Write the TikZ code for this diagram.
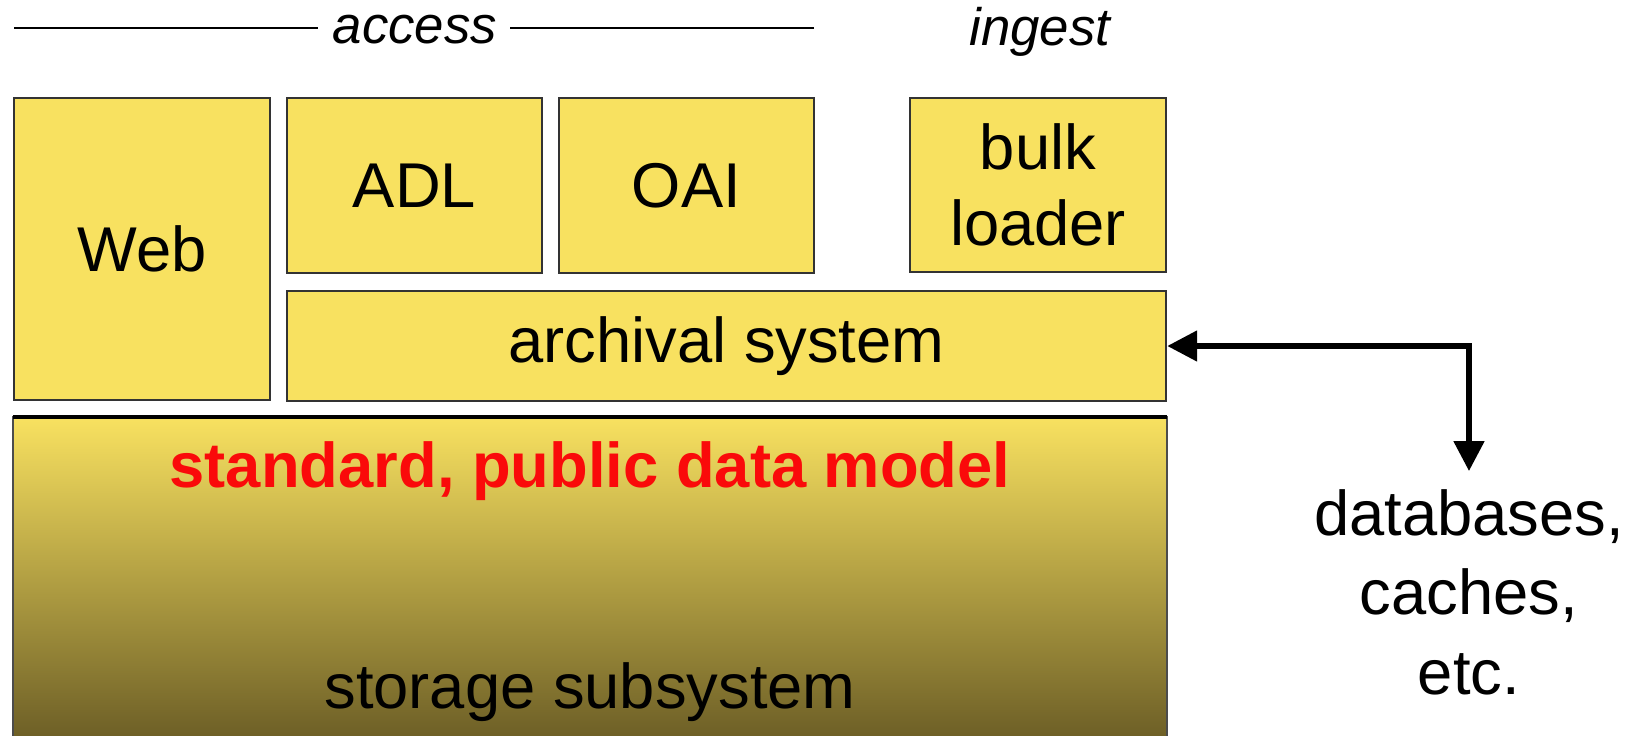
\documentclass[tikz,border=0pt]{standalone}
\usepackage{fontspec}
\setmainfont{Liberation Sans}
\usepackage{tikz}
\usetikzlibrary{arrows.meta,calc,positioning}
\definecolor{boxyellow}{RGB}{248,225,96}
\definecolor{olivemid}{RGB}{206,183,74}
\definecolor{olivedark}{RGB}{108,94,38}
\definecolor{modelred}{RGB}{250,10,10}
\tikzstyle{box}=[draw=black!80, fill=boxyellow, line width=0.6pt, inner sep=0pt, align=center, font=\fontsize{18}{21.6}\selectfont]
\tikzstyle{arrow}=[line width=1.5pt, {Triangle[length=8.5pt,width=8.5pt]}-{Triangle[length=8.5pt,width=8.5pt]}]

\begin{document}
\begin{tikzpicture}[x=0.01cm,y=-0.01cm,lbl/.style={font=\fontsize{15}{18}\selectfont\itshape, inner sep=0pt}]
\useasboundingbox (0,0) rectangle (1635,736);
% headings
\node[lbl] (access) at (415,30){access};
\node[lbl] (ingest) at (1040,32){ingest};
\coordinate (accL) at (14,28);
\coordinate (accR) at (814,28);
\draw[line width=0.6pt] (accL) -- ($(accL -| access.west)+(-14,0)$);
\draw[line width=0.6pt] (accR) -- ($(accR -| access.east)+(12,0)$);
% top row
\node[box, minimum width=2.56cm, minimum height=3.02cm] (web) at (142,249){Web};
\node[box, minimum width=2.55cm, minimum height=1.75cm] (adl) at (414.5,185.5){ADL};
\node[box, minimum width=2.55cm, minimum height=1.75cm] (oai) at (686.5,185.5){OAI};
\node[box, minimum width=2.56cm, minimum height=1.74cm] (bulk) at (1038,185){bulk\\loader};
\node[box, minimum width=8.79cm, minimum height=1.10cm] (arch) at (726.5,346){archival system};
% storage layer
\node[shade, top color=boxyellow, middle color=olivemid, bottom color=olivedark, minimum width=11.52cm, minimum height=3.22cm, inner sep=0pt] (store) at (590,579){};
\draw[draw=black!70, line width=0.6pt] (store.south west) -- (store.north west) -- (store.north east) -- (store.south east);
\draw[line width=1.1pt] (store.north west) -- (store.north east);
\node[font=\fontsize{18}{21.6}\selectfont\bfseries, text=modelred] (model) at (590,471){standard, public data model};
\node[font=\fontsize{18}{21.6}\selectfont] (storage) at (590,692){storage subsystem};
% outside
\node[align=center, font=\fontsize{18}{22.6}\selectfont, inner sep=5pt] (dbs) at (1469,592){databases,\\caches,\\etc.};
%\draw[arrow] (arch.east) -- (1469,346);
\draw[arrow] (arch.east) -| (dbs.north);
\end{tikzpicture}
\end{document}
